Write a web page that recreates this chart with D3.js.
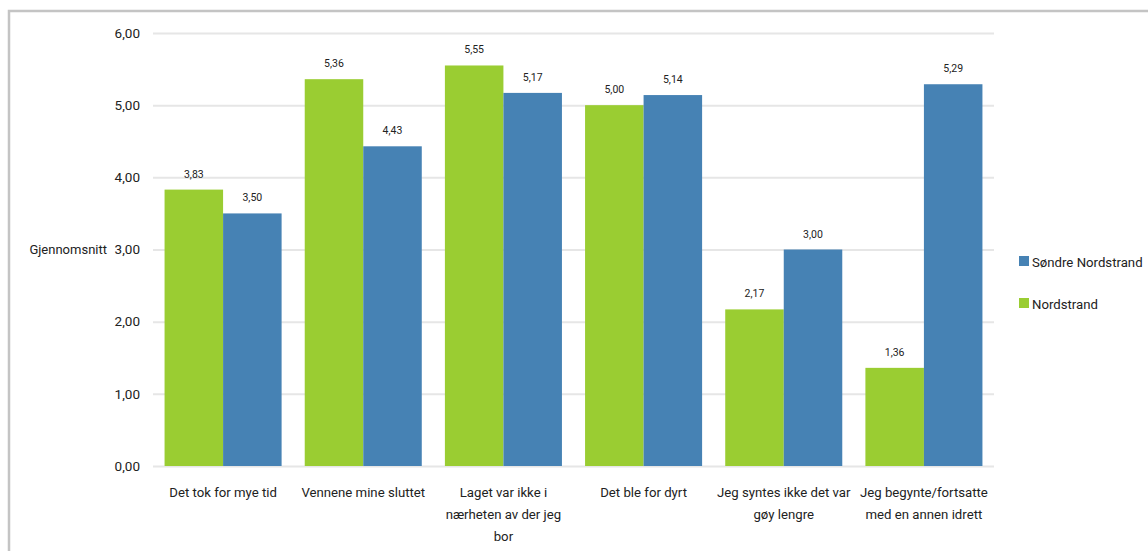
<!DOCTYPE html>
<html><head><meta charset="utf-8">
<script src="https://cdn.jsdelivr.net/npm/d3@7"></script>
<style>body{margin:0;background:#fff}svg{display:block}text{font-family:"Liberation Sans Narrow","Roboto",sans-serif;fill:#222}</style>
</head><body><svg id="c" width="1148" height="551"></svg>
<script>
const categories = [["Det tok for mye tid"],["Vennene mine sluttet"],["Laget var ikke i","nærheten av der jeg","bor"],["Det ble for dyrt"],["Jeg syntes ikke det var","gøy lengre"],["Jeg begynte/fortsatte","med en annen idrett"]];
const nordstrand = [3.83,5.36,5.55,5.00,2.17,1.36];
const sondre = [3.50,4.43,5.17,5.14,3.00,5.29];
const seriesNames = ["Nordstrand","Søndre Nordstrand"];
const yTicks = [0,1,2,3,4,5,6];
const colors = {"Nordstrand":"#9acd32","Søndre Nordstrand":"#4682b4"};

const svg = d3.select("#c");
svg.append("rect").attr("x",9).attr("y",11).attr("width",1200).attr("height",600)
  .attr("fill","none").attr("stroke","#c4c4c4").attr("stroke-width",2.5);

const x0 = 153, x1 = 994, yTop = 33, yBot = 466;
const y = d3.scaleLinear().domain([0,6]).range([yBot,yTop]);
const xb = d3.scaleBand().domain(d3.range(categories.length)).range([x0,x1]).paddingInner(0.165).paddingOuter(0.0825);
const xs = d3.scaleBand().domain(seriesNames).range([0,xb.bandwidth()]);

const fmt = v => d3.format(".2f")(v).replace(".",",");

const yAxis = d3.axisLeft(y).tickValues(yTicks).tickSize(-(x1-x0)).tickFormat(fmt).tickPadding(13);
const ga = svg.append("g").attr("transform",`translate(${x0},0)`).call(yAxis);
ga.select(".domain").remove();
ga.selectAll(".tick line").attr("stroke","#e6e6e6").attr("stroke-width",2);
ga.selectAll(".tick text").attr("font-size",13.5).style("fill","#222");

svg.append("text").attr("x",107).attr("y",y(3)).attr("dy","0.35em").attr("text-anchor","end").attr("font-size",13).text("Gjennomsnitt");

const data = categories.map((c,i)=>({i, vals:[{s:"Nordstrand",v:nordstrand[i]},{s:"Søndre Nordstrand",v:sondre[i]}]}));
const g = svg.selectAll(".grp").data(data).join("g").attr("transform",d=>`translate(${xb(d.i)},0)`);
g.selectAll("rect").data(d=>d.vals).join("rect")
  .attr("x",d=>xs(d.s)).attr("width",xs.bandwidth()).attr("y",d=>y(d.v)).attr("height",d=>y(0)-y(d.v))
  .attr("fill",d=>colors[d.s]);
g.selectAll(".vl").data(d=>d.vals).join("text").attr("class","vl")
  .attr("x",d=>xs(d.s)+xs.bandwidth()/2).attr("y",d=>y(d.v)-12).attr("text-anchor","middle").attr("font-size",10.5)
  .text(d=>fmt(d.v));

const xl = svg.selectAll(".xl").data(categories).join("text").attr("class","xl")
  .attr("text-anchor","middle").attr("font-size",13.2)
  .attr("transform",(d,i)=>`translate(${xb(i)+xb.bandwidth()/2},${yBot+31})`);
xl.selectAll("tspan").data(d=>d).join("tspan").attr("x",0).attr("dy",(d,i)=>i?22:0).text(d=>d);

const legendItems = ["Søndre Nordstrand","Nordstrand"];
const lg = svg.selectAll(".lg").data(legendItems).join("g").attr("transform",(d,i)=>`translate(1019,${262+i*42})`);
lg.append("rect").attr("x",0).attr("y",-6).attr("width",10).attr("height",10).attr("fill",d=>colors[d]);
lg.append("text").attr("x",13).attr("y",0).attr("dy","0.35em").attr("font-size",13.2).text(d=>d);
</script></body></html>
